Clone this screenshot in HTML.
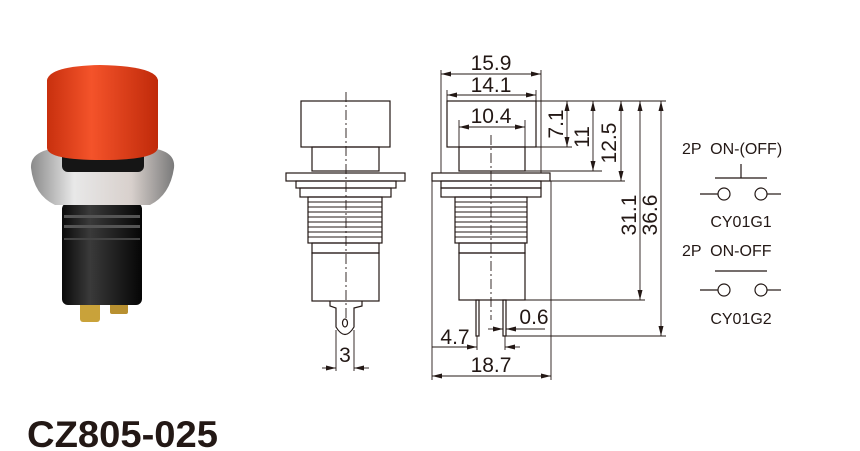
<!DOCTYPE html>
<html><head><meta charset="utf-8"><style>
html,body{margin:0;padding:0;background:#fff;}
svg{display:block;}
text{font-family:"Liberation Sans",Arial,sans-serif;fill:#231815;white-space:pre;}
</style></head><body>
<svg width="860" height="451" viewBox="0 0 860 451" xmlns="http://www.w3.org/2000/svg">
<defs>
<marker id="a" viewBox="0 0 12 6" refX="12" refY="3" markerWidth="12" markerHeight="5" orient="auto-start-reverse" markerUnits="userSpaceOnUse"><path d="M0,0 L12,3 L0,6 z" fill="#231815"/></marker>
<linearGradient id="cap" x1="0" x2="1"><stop offset="0" stop-color="#c8300e"/><stop offset="0.4" stop-color="#f4532a"/><stop offset="1" stop-color="#c02a0a"/></linearGradient>
<linearGradient id="sil" x1="0" x2="1"><stop offset="0" stop-color="#8a8a8a"/><stop offset="0.3" stop-color="#e8e8e8"/><stop offset="0.7" stop-color="#d8d0cc"/><stop offset="1" stop-color="#7a7a7a"/></linearGradient>
<linearGradient id="blk" x1="0" x2="1"><stop offset="0" stop-color="#0a0a0a"/><stop offset="0.35" stop-color="#3a3a3a"/><stop offset="1" stop-color="#050505"/></linearGradient>
</defs>

<!-- photo -->
<rect x="80" y="300" width="20" height="22" rx="3" fill="#c9a23a"/>
<rect x="110" y="300" width="18" height="14" rx="2" fill="#b89030"/>
<rect x="62" y="203" width="80" height="102" rx="6" fill="url(#blk)"/>
<rect x="64" y="215" width="76" height="3" fill="#555"/>
<rect x="64" y="225" width="76" height="3" fill="#555"/>
<rect x="64" y="238" width="76" height="2" fill="#444"/>
<path d="M31,168 Q30,150 60,148 L148,148 Q176,150 174,168 Q170,195 150,205 L55,205 Q34,195 31,168z" fill="url(#sil)"/>
<rect x="62" y="150" width="82" height="22" rx="6" fill="#151515"/>
<path d="M47,80 Q50,66 100,65 Q155,66 158,80 L158,148 Q156,160 102,160 Q48,160 47,148z" fill="url(#cap)"/>

<g stroke="#231815" stroke-width="1.2" fill="none">
<rect x="301" y="101" width="89" height="46"/>
<rect x="312" y="147" width="67" height="24"/>
<rect x="286" y="173" width="119" height="8"/>
<rect x="296" y="181" width="100" height="7"/>
<rect x="300" y="188" width="91" height="9"/>
<rect x="308" y="197" width="74" height="46"/>
<rect x="312" y="243" width="67" height="10"/>
<rect x="312" y="253" width="67" height="48"/>
<path d="M330,301 L330,306 L336,308 L336,327 Q345,342 354,327 L354,308 L362,306 L362,301"/>
<ellipse cx="345" cy="323" rx="2.5" ry="4"/>
</g>
<g stroke="#231815" stroke-width="0.9">
<line x1="308" y1="202" x2="382" y2="202"/><line x1="308" y1="207" x2="382" y2="207"/><line x1="308" y1="212" x2="382" y2="212"/><line x1="308" y1="217" x2="382" y2="217"/><line x1="308" y1="222" x2="382" y2="222"/><line x1="308" y1="227" x2="382" y2="227"/><line x1="308" y1="232" x2="382" y2="232"/><line x1="308" y1="237" x2="382" y2="237"/>
<line x1="346" y1="92" x2="346" y2="320" stroke-dasharray="10,3,2,3"/>
<line x1="336" y1="330" x2="336" y2="371"/><line x1="354" y1="330" x2="354" y2="371"/>
<line x1="322" y1="368" x2="336" y2="368" marker-end="url(#a)"/>
<line x1="369" y1="368" x2="354" y2="368" marker-end="url(#a)"/>
</g>
<text x="345" y="362" font-size="21" text-anchor="middle">3</text>

<g stroke="#231815" stroke-width="1.2" fill="none">
<rect x="447" y="101" width="89" height="46"/>
<rect x="459" y="147" width="66" height="24"/>
<rect x="432" y="173" width="118" height="8"/>
<rect x="441" y="181" width="100" height="7"/>
<rect x="441" y="188" width="100" height="9"/>
<rect x="455" y="197" width="72" height="46"/>
<rect x="459" y="243" width="66" height="10"/>
<rect x="459" y="253" width="66" height="47"/>
<rect x="476" y="300" width="3" height="36"/>
<rect x="503" y="300" width="3" height="36"/>
</g>
<g stroke="#231815" stroke-width="0.9">
<line x1="455" y1="202" x2="527" y2="202"/><line x1="455" y1="207" x2="527" y2="207"/><line x1="455" y1="212" x2="527" y2="212"/><line x1="455" y1="217" x2="527" y2="217"/><line x1="455" y1="222" x2="527" y2="222"/><line x1="455" y1="227" x2="527" y2="227"/><line x1="455" y1="232" x2="527" y2="232"/><line x1="455" y1="237" x2="527" y2="237"/>
<line x1="491" y1="135" x2="491" y2="320" stroke-dasharray="10,3,2,3"/>
<line x1="441" y1="70" x2="441" y2="173"/><line x1="541" y1="70" x2="541" y2="173"/>
<line x1="491" y1="74" x2="441" y2="74" marker-end="url(#a)"/><line x1="491" y1="74" x2="541" y2="74" marker-end="url(#a)"/>
<line x1="447" y1="90" x2="447" y2="101"/><line x1="536" y1="90" x2="536" y2="101"/>
<line x1="491" y1="95" x2="447" y2="95" marker-end="url(#a)"/><line x1="491" y1="95" x2="536" y2="95" marker-end="url(#a)"/>
<line x1="459" y1="120" x2="459" y2="147"/><line x1="525" y1="120" x2="525" y2="147"/>
<line x1="491" y1="127" x2="459" y2="127" marker-end="url(#a)"/><line x1="491" y1="127" x2="525" y2="127" marker-end="url(#a)"/>
<line x1="536" y1="101" x2="666" y2="101"/>
<line x1="536" y1="147" x2="572" y2="147"/>
<line x1="525" y1="171" x2="602" y2="171"/>
<line x1="550" y1="181" x2="625" y2="181"/>
<line x1="525" y1="300" x2="645" y2="300"/>
<line x1="506" y1="336" x2="666" y2="336"/>
<line x1="567" y1="124" x2="567" y2="101" marker-end="url(#a)"/><line x1="567" y1="124" x2="567" y2="147" marker-end="url(#a)"/>
<line x1="593" y1="136" x2="593" y2="101" marker-end="url(#a)"/><line x1="593" y1="136" x2="593" y2="171" marker-end="url(#a)"/>
<line x1="621" y1="140" x2="621" y2="101" marker-end="url(#a)"/><line x1="621" y1="140" x2="621" y2="181" marker-end="url(#a)"/>
<line x1="640" y1="200" x2="640" y2="101" marker-end="url(#a)"/><line x1="640" y1="200" x2="640" y2="300" marker-end="url(#a)"/>
<line x1="661" y1="220" x2="661" y2="101" marker-end="url(#a)"/><line x1="661" y1="220" x2="661" y2="336" marker-end="url(#a)"/>
<line x1="432" y1="181" x2="432" y2="380"/><line x1="551" y1="181" x2="551" y2="380"/>
<line x1="491" y1="376" x2="432" y2="376" marker-end="url(#a)"/><line x1="491" y1="376" x2="551" y2="376" marker-end="url(#a)"/>
<line x1="477" y1="336" x2="477" y2="350"/><line x1="505" y1="336" x2="505" y2="350"/>
<line x1="432" y1="347" x2="477" y2="347"/>
<line x1="462" y1="347" x2="477" y2="347" marker-end="url(#a)"/><line x1="520" y1="347" x2="505" y2="347" marker-end="url(#a)"/>
<line x1="488" y1="329" x2="503" y2="329" marker-end="url(#a)"/><line x1="545" y1="329" x2="506" y2="329"/><line x1="520" y1="329" x2="506" y2="329" marker-end="url(#a)"/>
</g>
<g font-size="21" text-anchor="middle">
<text x="491" y="70">15.9</text>
<text x="491" y="92">14.1</text>
<text x="491" y="123">10.4</text>
<text x="491" y="372">18.7</text>
<text x="455" y="344">4.7</text>
<text x="534" y="324">0.6</text>
<text transform="translate(563,124) rotate(-90)">7.1</text>
<text transform="translate(589,137) rotate(-90)">11</text>
<text transform="translate(616,143) rotate(-90)">12.5</text>
<text transform="translate(636,215) rotate(-90)">31.1</text>
<text transform="translate(657,215) rotate(-90)">36.6</text>
</g>

<g font-size="16">
<text x="682" y="154" xml:space="preserve">2P  ON-(OFF)</text>
<text x="741" y="227" text-anchor="middle">CY01G1</text>
<text x="682" y="256" xml:space="preserve">2P  ON-OFF</text>
<text x="741" y="324" text-anchor="middle">CY01G2</text>
</g>
<g stroke="#231815" stroke-width="1.2" fill="none">
<line x1="715" y1="178" x2="767" y2="178"/><line x1="741" y1="164" x2="741" y2="178"/>
<circle cx="724" cy="194" r="6"/><circle cx="761" cy="194" r="6"/>
<line x1="700" y1="194" x2="718" y2="194"/><line x1="767" y1="194" x2="781" y2="194"/>
<line x1="715" y1="271" x2="767" y2="271"/>
<circle cx="724" cy="290" r="6"/><circle cx="761" cy="290" r="6"/>
<line x1="700" y1="290" x2="718" y2="290"/><line x1="767" y1="290" x2="781" y2="290"/>
</g>

<text x="27" y="447" font-size="37" font-weight="bold" textLength="191" lengthAdjust="spacingAndGlyphs">CZ805-025</text>
</svg>
</body></html>
